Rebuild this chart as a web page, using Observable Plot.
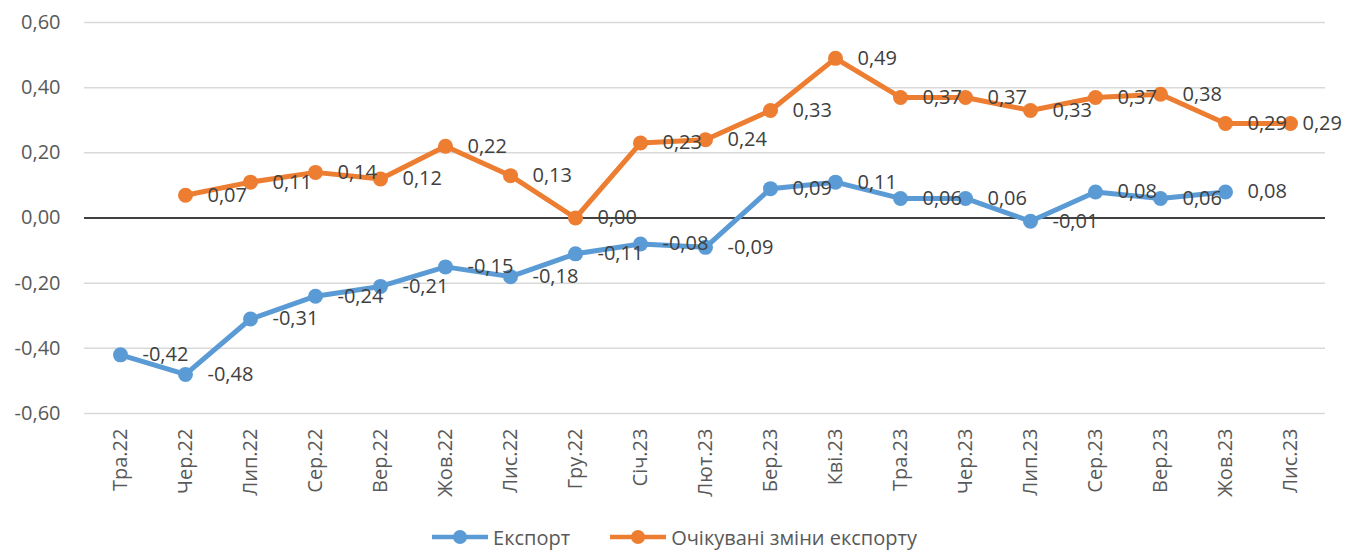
<!DOCTYPE html>
<html><head><meta charset="utf-8">
<script src="https://cdn.jsdelivr.net/npm/d3@7"></script>
<script src="https://cdn.jsdelivr.net/npm/@observablehq/plot@0.6"></script>
<style>
body{margin:0;background:#fff;font-family:"Open Sans",sans-serif;}
#legend{display:flex;justify-content:center;align-items:center;height:34px;font-size:20px;color:#595959;}
.item{display:flex;align-items:center;margin:0 20px;}
.item svg{margin-right:5px;}
</style></head><body>
<div id="chart"></div>
<div id="legend"></div>
<script>
const months = ["Тра.22","Чер.22","Лип.22","Сер.22","Вер.22","Жов.22","Лис.22","Гру.22","Січ.23","Лют.23","Бер.23","Кві.23","Тра.23","Чер.23","Лип.23","Сер.23","Вер.23","Жов.23","Лис.23"];
const exportValues = [-0.42,-0.48,-0.31,-0.24,-0.21,-0.15,-0.18,-0.11,-0.08,-0.09,0.09,0.11,0.06,0.06,-0.01,0.08,0.06,0.08,null];
const expectedValues = [null,0.07,0.11,0.14,0.12,0.22,0.13,0.00,0.23,0.24,0.33,0.49,0.37,0.37,0.33,0.37,0.38,0.29,0.29];
const seriesNames = ["Експорт","Очікувані зміни експорту"];
const seriesColors = ["#5B9BD5","#ED7D31"];
const yTicks = [-0.6,-0.4,-0.2,0,0.2,0.4,0.6];

const fmt = d => d.toFixed(2).replace(".", ",");
const rows = [];
months.forEach((m,i) => {
  if (exportValues[i] != null) rows.push({month:m, value:exportValues[i], series:seriesNames[0]});
  if (expectedValues[i] != null) rows.push({month:m, value:expectedValues[i], series:seriesNames[1]});
});
const lastMonth = months[months.length - 1];

const chart = Plot.plot({
  width: 1349,
  height: 520,
  marginLeft: 84,
  marginRight: 24,
  marginTop: 22,
  marginBottom: 107,
  style: {fontFamily: "Open Sans", fontSize: "20px", color: "#595959", background: "#fff"},
  x: {type: "point", domain: months, padding: 0.5, label: null},
  y: {domain: [-0.6, 0.6], label: null},
  color: {domain: seriesNames, range: seriesColors},
  marks: [
    Plot.gridY(yTicks.filter(t => t !== 0), {stroke: "#d9d9d9", strokeOpacity: 1, strokeWidth: 1.5}),
    Plot.ruleY([0], {stroke: "#000", strokeWidth: 1.5}),
    Plot.axisY(yTicks, {tickSize: 0, tickPadding: 24, tickFormat: fmt, fill: "#595959", label: null, fontSize: 20}),
    Plot.axisX(months, {tickSize: 0, tickPadding: 15, tickRotate: -90, fill: "#595959", label: null, fontSize: 20}),
    Plot.line(rows, {x: "month", y: "value", z: "series", stroke: "series", strokeWidth: 5, strokeLinejoin: "round"}),
    Plot.dot(rows, {x: "month", y: "value", fill: "series", r: 7.5}),
    Plot.text(rows.filter(d => d.month !== lastMonth), {x: "month", y: "value", text: d => fmt(d.value), dx: 22, textAnchor: "start", fill: "#404040", fontSize: 20}),
    Plot.text(rows.filter(d => d.month === lastMonth), {x: "month", y: "value", text: d => fmt(d.value), dx: 12, textAnchor: "start", fill: "#404040", fontSize: 20})
  ]
});
document.getElementById("chart").appendChild(chart);

const legend = document.getElementById("legend");
seriesNames.forEach((name, i) => {
  const item = document.createElement("div");
  item.className = "item";
  item.innerHTML = `<svg width="56" height="16"><line x1="0" y1="8" x2="56" y2="8" stroke="${seriesColors[i]}" stroke-width="4.5"/><circle cx="28" cy="8" r="7" fill="${seriesColors[i]}"/></svg><span>${name}</span>`;
  legend.appendChild(item);
});
</script>
</body></html>
